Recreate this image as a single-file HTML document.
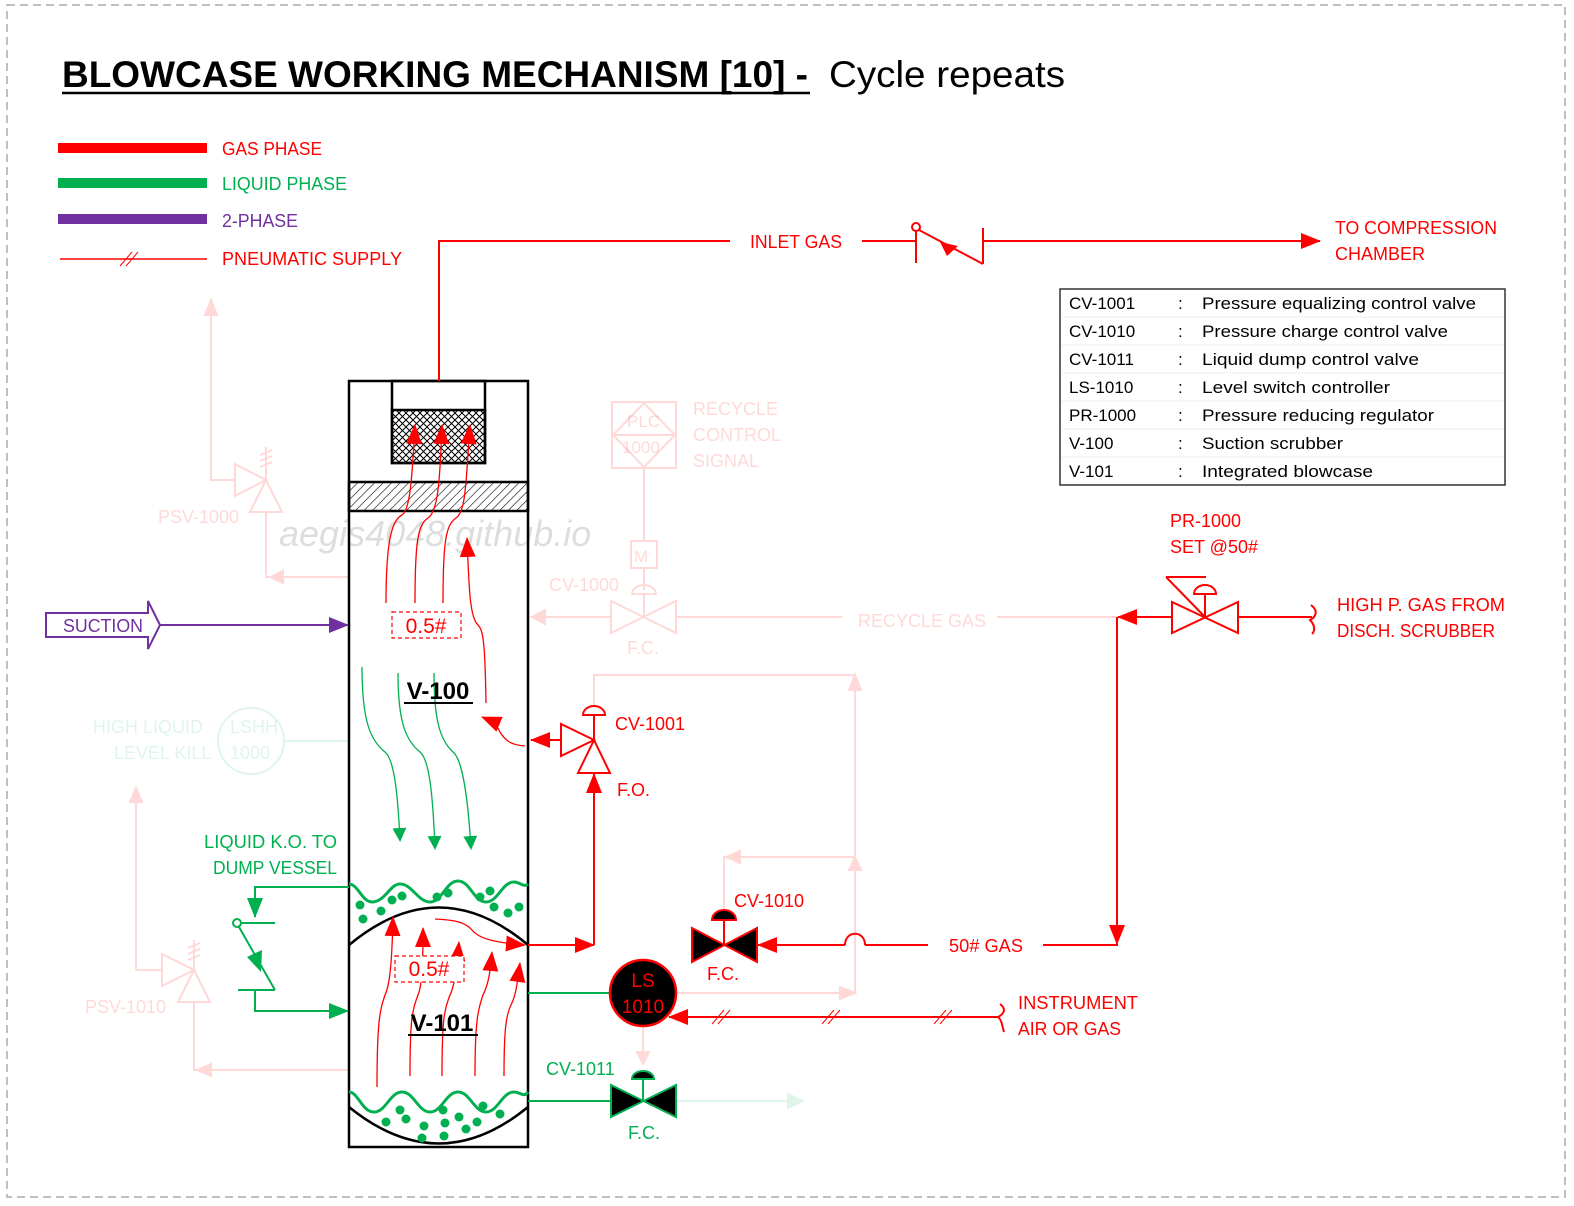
<!DOCTYPE html>
<html><head><meta charset="utf-8"><style>
html,body{margin:0;padding:0;background:#fff;}
svg{display:block;font-family:"Liberation Sans",sans-serif;}
</style></head><body>
<svg width="1574" height="1206" viewBox="0 0 1574 1206" xmlns="http://www.w3.org/2000/svg">
<defs>
<marker id="arb" markerWidth="20" markerHeight="16" refX="19" refY="8" orient="auto" markerUnits="userSpaceOnUse"><path d="M0,0 L20,8 L0,16z" fill="#f00"/></marker>
<marker id="agb" markerWidth="20" markerHeight="16" refX="19" refY="8" orient="auto" markerUnits="userSpaceOnUse"><path d="M0,0 L20,8 L0,16z" fill="#00b050"/></marker>
<marker id="apb" markerWidth="20" markerHeight="16" refX="19" refY="8" orient="auto" markerUnits="userSpaceOnUse"><path d="M0,0 L20,8 L0,16z" fill="#7030a0"/></marker>
<marker id="ag" markerWidth="14" markerHeight="14" refX="12" refY="7" orient="auto" markerUnits="userSpaceOnUse"><path d="M0,0 L14,7 L0,14z" fill="#00b050"/></marker>
<pattern id="hatch" width="6" height="6" patternUnits="userSpaceOnUse" patternTransform="rotate(45)"><line x1="0" y1="0" x2="0" y2="6" stroke="#000" stroke-width="1.2"/></pattern>
<pattern id="mesh" width="7" height="7" patternUnits="userSpaceOnUse"><path d="M0,0 L7,7 M7,0 L0,7" stroke="#000" stroke-width="1"/></pattern>
</defs>
<rect x="7" y="5" width="1558" height="1192" fill="none" stroke="#aaa" stroke-width="1.5" stroke-dasharray="8,5"/>

<text x="62" y="87" font-size="37" font-weight="bold" textLength="746" lengthAdjust="spacingAndGlyphs">BLOWCASE WORKING MECHANISM [10] -</text>
<line x1="62" y1="93" x2="810" y2="93" stroke="#000" stroke-width="2.5"/>
<text x="829" y="87" font-size="37" textLength="236" lengthAdjust="spacingAndGlyphs">Cycle repeats</text>

<rect x="58" y="143" width="149" height="10" fill="#f00"/>
<rect x="58" y="178" width="149" height="10" fill="#00b050"/>
<rect x="58" y="214" width="149" height="10" fill="#7030a0"/>
<line x1="60" y1="259" x2="207" y2="259" stroke="#f00" stroke-width="1.5"/>
<path d="M120,266 L132,252 M126,266 L138,252" stroke="#f00" stroke-width="1"/>
<g font-size="18">
<text x="222" y="155" fill="#f00" textLength="100" lengthAdjust="spacingAndGlyphs">GAS PHASE</text>
<text x="222" y="190" fill="#00b050" textLength="125" lengthAdjust="spacingAndGlyphs">LIQUID PHASE</text>
<text x="222" y="227" fill="#7030a0" textLength="76" lengthAdjust="spacingAndGlyphs">2-PHASE</text>
<text x="222" y="265" fill="#f00" textLength="180" lengthAdjust="spacingAndGlyphs">PNEUMATIC SUPPLY</text>
</g>

<g opacity="0.15" stroke="#f00" fill="none" stroke-width="2">
<path d="M211,305 L211,480 L235,480"/>
<path d="M205,315 L211,300 L217,315z" fill="#f00"/>
<path d="M235,464 L235,496 L266,480z"/>
<path d="M266,480 L250,512 L282,512z"/>
<path d="M266,480 L266,447 M260,455 L272,450 M260,461 L272,456 M260,467 L272,462"/>
<path d="M266,512 L266,577 L349,577"/>
<path d="M283,571 L270,577 L283,583z" fill="#f00"/>
<rect x="612" y="402" width="64" height="66"/>
<path d="M644,403 L675,435 L644,467 L613,435z M613,435 L675,435"/>
<line x1="644" y1="468" x2="644" y2="541"/>
<rect x="631" y="541" width="26" height="27"/>
<line x1="644" y1="568" x2="644" y2="590"/>
<path d="M632,594 A12,9 0 0 1 656,594z"/>
<line x1="644" y1="594" x2="644" y2="617"/>
<path d="M611,601 L611,633 L676,601 L676,633z"/>
<line x1="530" y1="617" x2="611" y2="617"/>
<path d="M545,610 L532,617 L545,624z" fill="#f00"/>
<line x1="676" y1="617" x2="842" y2="617"/>
<line x1="997" y1="617" x2="1117" y2="617"/>
<path d="M594,710 L594,675 L855,675 L855,993 L676,993"/>
<path d="M849,690 L855,675 L861,690z" fill="#f00"/>
<path d="M724,912 L724,857 L855,857"/>
<path d="M740,851 L726,857 L740,863z" fill="#f00"/>
<path d="M849,870 L855,857 L861,870z" fill="#f00"/>
<path d="M840,987 L855,993 L840,999z" fill="#f00"/>
<line x1="643" y1="1026" x2="643" y2="1060"/>
<path d="M637,1052 L643,1064 L649,1052z" fill="#f00"/>
<path d="M136,790 L136,970 L162,970"/>
<path d="M130,802 L136,788 L142,802z" fill="#f00"/>
<path d="M162,954 L162,986 L194,970z"/>
<path d="M194,970 L178,1002 L210,1002z"/>
<path d="M194,970 L194,940 M188,948 L200,943 M188,954 L200,949 M188,960 L200,955"/>
<path d="M194,1002 L194,1070 L349,1070"/>
<path d="M211,1064 L197,1070 L211,1076z" fill="#f00"/>
</g>
<g opacity="0.15" fill="#f00" font-size="18">
<text x="693" y="415">RECYCLE</text>
<text x="693" y="441">CONTROL</text>
<text x="693" y="467">SIGNAL</text>
<text x="627" y="427" font-size="17">PLC</text>
<text x="622" y="453" font-size="17">1000</text>
<text x="634" y="562" font-size="17">M</text>
<text x="549" y="591">CV-1000</text>
<text x="627" y="654">F.C.</text>
<text x="858" y="627">RECYCLE GAS</text>
<text x="158" y="523">PSV-1000</text>
<text x="85" y="1013">PSV-1010</text>
</g>
<g opacity="0.12" stroke="#00b050" fill="none" stroke-width="2">
<circle cx="251" cy="741" r="33"/>
<line x1="284" y1="741" x2="349" y2="741"/>
<line x1="676" y1="1101" x2="800" y2="1101"/>
<path d="M788,1094 L803,1101 L788,1108z" fill="#00b050"/>
</g>
<g opacity="0.12" fill="#00b050" font-size="18">
<text x="93" y="733">HIGH LIQUID</text>
<text x="114" y="759">LEVEL KILL</text>
<text x="230" y="733">LSHH</text>
<text x="230" y="759">1000</text>
</g>

<text x="279" y="546" font-size="36" font-style="italic" fill="#000" opacity="0.13">aegis4048.github.io</text>

<rect x="349" y="381" width="179" height="766" fill="none" stroke="#000" stroke-width="2.5"/>
<rect x="392" y="381" width="93" height="82" fill="none" stroke="#000" stroke-width="2.5"/>
<rect x="392" y="410" width="93" height="53" fill="url(#mesh)" stroke="#000" stroke-width="2.5"/>
<rect x="349" y="482" width="179" height="29" fill="url(#hatch)" stroke="#000" stroke-width="2.5"/>
<path d="M349,945 Q439,870 528,945" fill="none" stroke="#000" stroke-width="2.5"/>
<path d="M349,1107 Q439,1180 528,1107" fill="none" stroke="#000" stroke-width="2.5"/>

<path d="M349,884 C358,884 362,902 372,902 C385,902 390,884 400,884 C412,884 418,902 430,902 C442,902 446,881 458,881 C470,881 474,902 486,902 C498,902 502,882 514,882 C520,882 524,888 528,884" fill="none" stroke="#00b050" stroke-width="3"/>
<path d="M349,1092 C358,1092 362,1112 374,1112 C386,1112 390,1092 402,1092 C414,1092 418,1112 430,1112 C442,1112 446,1092 458,1092 C470,1092 474,1112 486,1112 C498,1112 502,1092 514,1092 C520,1092 524,1098 528,1092" fill="none" stroke="#00b050" stroke-width="3"/>
<g fill="#00b050">
<circle cx="360" cy="905" r="4.5"/><circle cx="363" cy="919" r="4.5"/><circle cx="381" cy="911" r="4.5"/><circle cx="392" cy="900" r="4.5"/><circle cx="402" cy="896" r="4.5"/><circle cx="437" cy="897" r="4.5"/><circle cx="448" cy="893" r="4.5"/><circle cx="480" cy="897" r="4.5"/><circle cx="490" cy="891" r="4.5"/><circle cx="494" cy="907" r="4.5"/><circle cx="508" cy="913" r="4.5"/><circle cx="519" cy="907" r="4.5"/>
<circle cx="400" cy="1110" r="4.5"/><circle cx="406" cy="1119" r="4.5"/><circle cx="386" cy="1122" r="4.5"/><circle cx="424" cy="1126" r="4.5"/><circle cx="422" cy="1138" r="4.5"/><circle cx="443" cy="1110" r="4.5"/><circle cx="445" cy="1123" r="4.5"/><circle cx="444" cy="1136" r="4.5"/><circle cx="459" cy="1117" r="4.5"/><circle cx="466" cy="1129" r="4.5"/><circle cx="477" cy="1122" r="4.5"/><circle cx="483" cy="1106" r="4.5"/><circle cx="500" cy="1114" r="4.5"/>
</g>

<g fill="none" stroke="#00b050" stroke-width="1.3">
<path d="M362,667 C362,720 370,740 385,752 C395,760 398,800 400,840" marker-end="url(#ag)"/>
<path d="M398,673 C398,720 405,740 420,752 C430,760 433,800 435,848" marker-end="url(#ag)"/>
<path d="M434,673 C434,720 440,740 453,752 C463,760 468,800 471,848" marker-end="url(#ag)"/>
</g>

<g fill="none" stroke="#f00" stroke-width="1.3">
<path d="M386,603 C386,540 392,520 402,515 C410,510 412,480 415,425" marker-end="url(#arb)"/>
<path d="M415,603 C415,540 418,525 428,518 C438,512 440,480 442,425" marker-end="url(#arb)"/>
<path d="M443,603 C443,540 446,525 456,518 C466,512 466,480 470,425" marker-end="url(#arb)"/>
<path d="M486,703 C485,640 483,630 478,625 C470,618 469,590 467,538" marker-end="url(#arb)"/>
<path d="M525,746 C510,745 505,740 500,732 C496,724 494,722 482,717" marker-end="url(#arb)"/>
</g>
<g fill="none" stroke="#f00" stroke-width="1.3">
<path d="M377,1087 C377,1020 380,1010 385,995 C390,985 392,960 393,917" marker-end="url(#arb)"/>
<path d="M410,1076 C410,1020 412,1010 418,995 C422,985 423,965 423,928" marker-end="url(#arb)"/>
<path d="M442,1076 C442,1020 444,1010 450,995 C455,985 457,965 459,942" marker-end="url(#arb)"/>
<path d="M475,1076 C475,1020 478,1010 483,995 C488,985 490,975 492,952" marker-end="url(#arb)"/>
<path d="M504,1076 C504,1030 506,1015 511,1005 C516,995 517,985 520,963" marker-end="url(#arb)"/>
<path d="M435,919 C455,920 465,922 472,930 C480,940 500,943 525,945" marker-end="url(#arb)"/>
</g>

<rect x="392" y="612" width="69" height="26" fill="#fff" stroke="#f00" stroke-width="1.2" stroke-dasharray="4,3"/>
<text x="426" y="633" font-size="21" fill="#f00" text-anchor="middle">0.5#</text>
<rect x="395" y="956" width="69" height="26" fill="#fff" stroke="#f00" stroke-width="1.2" stroke-dasharray="4,3"/>
<text x="429" y="976" font-size="21" fill="#f00" text-anchor="middle">0.5#</text>

<text x="438" y="699" font-size="24" font-weight="bold" text-anchor="middle">V-100</text>
<line x1="404" y1="703" x2="473" y2="703" stroke="#000" stroke-width="2"/>
<text x="442" y="1031" font-size="24" font-weight="bold" text-anchor="middle">V-101</text>
<line x1="408" y1="1035" x2="478" y2="1035" stroke="#000" stroke-width="2"/>

<g stroke="#f00" stroke-width="2" fill="none">
<path d="M439,381 L439,241 L730,241"/>
<line x1="862" y1="241" x2="916" y2="241"/>
<line x1="916" y1="227" x2="916" y2="263"/>
<circle cx="916" cy="227" r="4" fill="#fff"/>
<line x1="919" y1="230" x2="983" y2="264"/>
<line x1="983" y1="228" x2="983" y2="264"/>
<line x1="983" y1="241" x2="1320" y2="241" marker-end="url(#arb)"/>
</g>
<path d="M940,242 L958,246 L947,256z" fill="#f00"/>
<text x="750" y="248" font-size="18" fill="#f00" textLength="92" lengthAdjust="spacingAndGlyphs">INLET GAS</text>
<text x="1335" y="234" font-size="18" fill="#f00" textLength="162" lengthAdjust="spacingAndGlyphs">TO COMPRESSION</text>
<text x="1335" y="260" font-size="18" fill="#f00" textLength="90" lengthAdjust="spacingAndGlyphs">CHAMBER</text>

<rect x="1060" y="289" width="445" height="196" fill="#fff" stroke="#333" stroke-width="1.5"/>
<g stroke="#ddd" stroke-width="1" stroke-dasharray="1,1">
<line x1="1062" y1="317" x2="1503" y2="317"/><line x1="1062" y1="345" x2="1503" y2="345"/><line x1="1062" y1="373" x2="1503" y2="373"/><line x1="1062" y1="401" x2="1503" y2="401"/><line x1="1062" y1="429" x2="1503" y2="429"/><line x1="1062" y1="457" x2="1503" y2="457"/>
</g>
<g font-size="17" fill="#000">
<text x="1069" y="309">CV-1001</text><text x="1178" y="309">:</text><text x="1202" y="309" textLength="274" lengthAdjust="spacingAndGlyphs">Pressure equalizing control valve</text>
<text x="1069" y="337">CV-1010</text><text x="1178" y="337">:</text><text x="1202" y="337" textLength="246" lengthAdjust="spacingAndGlyphs">Pressure charge control valve</text>
<text x="1069" y="365">CV-1011</text><text x="1178" y="365">:</text><text x="1202" y="365" textLength="217" lengthAdjust="spacingAndGlyphs">Liquid dump control valve</text>
<text x="1069" y="393">LS-1010</text><text x="1178" y="393">:</text><text x="1202" y="393" textLength="188" lengthAdjust="spacingAndGlyphs">Level switch controller</text>
<text x="1069" y="421">PR-1000</text><text x="1178" y="421">:</text><text x="1202" y="421" textLength="232" lengthAdjust="spacingAndGlyphs">Pressure reducing regulator</text>
<text x="1069" y="449">V-100</text><text x="1178" y="449">:</text><text x="1202" y="449" textLength="141" lengthAdjust="spacingAndGlyphs">Suction scrubber</text>
<text x="1069" y="477">V-101</text><text x="1178" y="477">:</text><text x="1202" y="477" textLength="171" lengthAdjust="spacingAndGlyphs">Integrated blowcase</text>
</g>

<path d="M46,613 L148,613 L148,601 L160,625 L148,649 L148,637 L46,637z" fill="#fff" stroke="#7030a0" stroke-width="2"/>
<text x="63" y="632" font-size="18" fill="#7030a0" textLength="80" lengthAdjust="spacingAndGlyphs">SUCTION</text>
<line x1="160" y1="625" x2="348" y2="625" stroke="#7030a0" stroke-width="2" marker-end="url(#apb)"/>

<g stroke="#00b050" stroke-width="2" fill="none">
<path d="M349,887 L255,887 L255,917" marker-end="url(#agb)"/>
<line x1="240" y1="923" x2="275" y2="923"/>
<circle cx="237" cy="923" r="4" fill="#fff"/>
<line x1="239" y1="927" x2="275" y2="990"/>
<line x1="238" y1="990" x2="275" y2="990"/>
<path d="M255,990 L255,1011 L348,1011" marker-end="url(#agb)"/>
</g>
<path d="M247,957 L262,950 L261,972z" fill="#00b050"/>
<text x="337" y="848" font-size="18" fill="#00b050" text-anchor="end" textLength="133" lengthAdjust="spacingAndGlyphs">LIQUID K.O. TO</text>
<text x="337" y="874" font-size="18" fill="#00b050" text-anchor="end" textLength="124" lengthAdjust="spacingAndGlyphs">DUMP VESSEL</text>

<g stroke="#f00" stroke-width="2" fill="none">
<path d="M528,945 L594,945" marker-end="url(#arb)"/>
<path d="M594,945 L594,774" marker-end="url(#arb)"/>
<path d="M561,740 L531,740" marker-end="url(#arb)"/>
<path d="M561,724 L561,756 L594,740z" fill="#fff"/>
<path d="M594,740 L578,773 L610,773z" fill="#fff"/>
<line x1="594" y1="740" x2="594" y2="714"/>
<path d="M583,715 A11,9 0 0 1 605,715z" fill="#fff"/>
</g>
<text x="615" y="730" font-size="18" fill="#f00">CV-1001</text>
<text x="617" y="796" font-size="18" fill="#f00">F.O.</text>

<g stroke="#f00" stroke-width="2">
<path d="M692,928 L692,962 L757,928 L757,962z" fill="#000"/>
<line x1="724" y1="945" x2="724" y2="918" fill="none"/>
<path d="M712,920 A12,10 0 0 1 736,920z" fill="#000"/>
<path d="M845,945 C845,930 865,930 865,945 M865,945 L928,945 M845,945 L758,945" fill="none" marker-end="url(#arb)"/>
<path d="M1043,945 L1117,945 L1117,617" fill="none"/>
<path d="M1117,617 L1117,944" fill="none" marker-end="url(#arb)"/>
<path d="M1172,617 L1118,617" fill="none" marker-end="url(#arb)"/>
<path d="M1172,602 L1172,633 L1238,602 L1238,633z" fill="#fff"/>
<line x1="1205" y1="617" x2="1205" y2="594" fill="none"/>
<path d="M1194,594 A11,9 0 0 1 1216,594z" fill="#fff"/>
<path d="M1166,577 L1206,577 M1166,577 L1205,617" fill="none"/>
<line x1="1238" y1="617" x2="1312" y2="617"/>
<path d="M1311,605 C1320,612 1314,618 1310,620 C1314,624 1316,630 1312,634" fill="none"/>
</g>
<text x="734" y="907" font-size="18" fill="#f00">CV-1010</text>
<text x="707" y="980" font-size="18" fill="#f00">F.C.</text>
<text x="949" y="952" font-size="18" fill="#f00" textLength="74" lengthAdjust="spacingAndGlyphs">50# GAS</text>
<text x="1170" y="527" font-size="18" fill="#f00">PR-1000</text>
<text x="1170" y="553" font-size="18" fill="#f00">SET @50#</text>
<text x="1337" y="611" font-size="18" fill="#f00" textLength="168" lengthAdjust="spacingAndGlyphs">HIGH P. GAS FROM</text>
<text x="1337" y="637" font-size="18" fill="#f00" textLength="158" lengthAdjust="spacingAndGlyphs">DISCH. SCRUBBER</text>

<line x1="528" y1="993" x2="611" y2="993" stroke="#00b050" stroke-width="2"/>
<circle cx="643" cy="993" r="33" fill="#000" stroke="#f00" stroke-width="2.5"/>
<text x="643" y="987" font-size="19" fill="#f00" text-anchor="middle">LS</text>
<text x="643" y="1013" font-size="19" fill="#f00" text-anchor="middle">1010</text>
<line x1="998" y1="1017" x2="669" y2="1017" stroke="#f00" stroke-width="2" marker-end="url(#arb)"/>
<path d="M712,1024 L724,1010 M718,1024 L730,1010 M822,1024 L834,1010 M828,1024 L840,1010 M934,1024 L946,1010 M940,1024 L952,1010" stroke="#f00" stroke-width="1"/>
<path d="M1000,1004 C1008,1010 1002,1015 998,1017 C1002,1020 1002,1026 1004,1032" fill="none" stroke="#f00" stroke-width="2"/>
<text x="1018" y="1009" font-size="18" fill="#f00" textLength="120" lengthAdjust="spacingAndGlyphs">INSTRUMENT</text>
<text x="1018" y="1035" font-size="18" fill="#f00" textLength="103" lengthAdjust="spacingAndGlyphs">AIR OR GAS</text>

<line x1="528" y1="1101" x2="611" y2="1101" stroke="#00b050" stroke-width="2"/>
<g stroke="#00b050" stroke-width="2">
<path d="M611,1085 L611,1117 L676,1085 L676,1117z" fill="#000"/>
<line x1="643" y1="1101" x2="643" y2="1078"/>
<path d="M632,1079 A11,8 0 0 1 654,1079z" fill="#000"/>
</g>
<text x="546" y="1075" font-size="18" fill="#00b050">CV-1011</text>
<text x="628" y="1139" font-size="18" fill="#00b050">F.C.</text>
</svg>
</body></html>
